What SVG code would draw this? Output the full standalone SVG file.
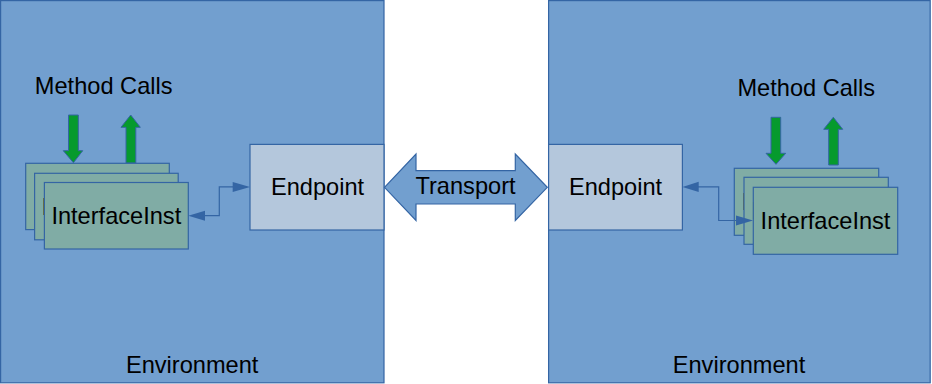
<svg xmlns="http://www.w3.org/2000/svg" width="932" height="384" viewBox="0 0 932 384">
<style>
.env{fill:#729fcf;stroke:#3465a4;stroke-width:1.2}
.ep{fill:#b4c7dc;stroke:#3465a4;stroke-width:1.2}
.ii{fill:#80aca5;stroke:#3465a4;stroke-width:1.2}
.g{fill:#069a2e;stroke:#3465a4;stroke-width:1}
.t{font-family:"Liberation Sans",Arial,sans-serif;font-size:23.6px;fill:#000;text-anchor:middle}
.c{fill:none;stroke:#3465a4;stroke-width:1.2}
.ah{fill:#3465a4}
</style>
<rect width="932" height="384" fill="#fff"/>
<g id="envLeft">
<rect class="env" x="0.6" y="0.6" width="383.4" height="382.2"/>
<text class="t" x="192.2" y="372.7">Environment</text>
</g>
<g id="envRight">
<rect class="env" x="548.6" y="0.6" width="381.6" height="382.2"/>
<text class="t" x="739" y="372.7">Environment</text>
</g>
<g id="endpointLeft">
<rect class="ep" x="250" y="144.4" width="134" height="85.6"/>
<text class="t" x="317.5" y="194.5">Endpoint</text>
</g>
<g id="endpointRight">
<rect class="ep" x="548.6" y="144.4" width="133.8" height="85.6"/>
<text class="t" x="615.5" y="194.5">Endpoint</text>
</g>
<g id="transport">
<polygon points="384.5,187.3 416,154 416,170.7 515.3,170.7 515.3,154 547.3,187.3 515.3,220.5 515.3,204 416,204 416,220.5" fill="#729fcf" stroke="#3465a4" stroke-width="1.2"/>
<text class="t" x="465.5" y="194.3">Transport</text>
</g>
<g id="methodCallsLeft">
<text class="t" x="103.7" y="94">Method Calls</text>
<polygon class="g" points="68.5,115 78.3,115 78.3,150.7 82.7,150.7 73.4,162.7 63.3,150.7 68.5,150.7"/>
<polygon class="g" points="126,163 126,127.3 121,127.3 130.7,115 140.3,127.3 135.8,127.3 135.8,163"/>
</g>
<g id="methodCallsRight">
<text class="t" x="806.3" y="95.7">Method Calls</text>
<polygon class="g" points="771,117.3 780.7,117.3 780.7,153.3 785.7,153.3 776,164.3 766,153.3 771,153.3"/>
<polygon class="g" points="828.7,165 828.7,129.3 823.7,129.3 833.3,117.3 842.7,129.3 838.3,129.3 838.3,165"/>
</g>
<g id="interfaceLeft">
<rect class="ii" x="25.7" y="163.3" width="143.6" height="66.3"/>
<text class="t" x="97.5" y="204.7">InterfaceInst</text>
<rect class="ii" x="34.6" y="173.3" width="143.6" height="66.5"/>
<text class="t" x="106.4" y="215">InterfaceInst</text>
<rect class="ii" x="44.4" y="182.5" width="143.9" height="66.5"/>
<text class="t" x="116.3" y="224">InterfaceInst</text>
</g>
<g id="interfaceRight">
<rect class="ii" x="734.3" y="168.3" width="144.4" height="67"/>
<text class="t" x="806.5" y="210">InterfaceInst</text>
<rect class="ii" x="744" y="177.3" width="144.3" height="67"/>
<text class="t" x="816.2" y="219">InterfaceInst</text>
<rect class="ii" x="753.3" y="187.3" width="144.4" height="67"/>
<text class="t" x="825.5" y="229">InterfaceInst</text>
</g>
<g id="connectors">
<polyline class="c" points="204,215.7 219.3,215.7 219.3,186.9 233,186.9"/>
<polygon class="ah" points="188.3,215.7 205,210.7 205,220.7"/>
<polygon class="ah" points="250,186.9 232.7,181.9 232.7,191.9"/>
<polyline class="c" points="698,186.9 718.7,186.9 718.7,220.5 736,220.5"/>
<polygon class="ah" points="682.5,186.9 698.7,181.7 698.7,191.9"/>
<polygon class="ah" points="753,220.5 736,215.5 736,225.5"/>
</g>
</svg>
